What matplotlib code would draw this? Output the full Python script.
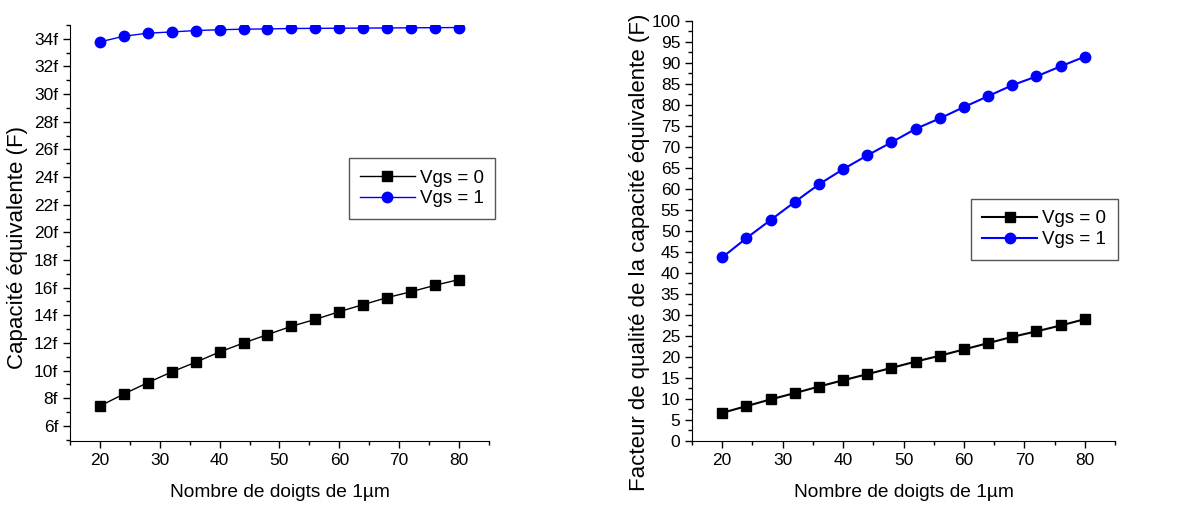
import matplotlib.pyplot as plt
from matplotlib.ticker import MultipleLocator, FuncFormatter

plt.rcParams['font.family'] = ['Liberation Sans', 'DejaVu Sans']

doigts = [20, 24, 28, 32, 36, 40, 44, 48, 52, 56, 60, 64, 68, 72, 76, 80]

# capacite equivalente, en fF
cap_vgs0 = [7.43, 8.3, 9.12, 9.9, 10.6, 11.34, 11.99, 12.6, 13.2, 13.7,
            14.26, 14.77, 15.28, 15.7, 16.17, 16.58]
cap_vgs1 = [33.78, 34.19, 34.41, 34.5, 34.6, 34.66, 34.7, 34.72, 34.75, 34.76,
            34.77, 34.78, 34.79, 34.8, 34.81, 34.82]

# facteur de qualite
q_vgs0 = [6.7, 8.3, 9.9, 11.4, 12.96, 14.46, 15.9, 17.4, 18.9, 20.3,
          21.8, 23.3, 24.8, 26.1, 27.5, 29.0]
q_vgs1 = [43.7, 48.3, 52.6, 56.9, 61.1, 64.7, 68.0, 71.1, 74.3, 76.8,
          79.5, 82.1, 84.7, 86.8, 89.2, 91.5]

labels = ['Vgs = 0', 'Vgs = 1']

fig = plt.figure(figsize=(11.96, 5.11), dpi=100)
ax1 = fig.add_axes([0.0585, 0.137, 0.3503, 0.814])
ax2 = fig.add_axes([0.5786, 0.137, 0.3537, 0.822])


def style(ax):
    for s in ['top', 'right']:
        ax.spines[s].set_visible(False)
    ax.tick_params(which='major', direction='out', length=5, width=1, labelsize=12.5)
    ax.tick_params(which='minor', direction='out', length=3, width=1)
    ax.xaxis.set_major_locator(MultipleLocator(10))
    ax.xaxis.set_minor_locator(MultipleLocator(5))
    ax.set_xlim(15, 85)
    ax.set_xlabel('Nombre de doigts de 1µm', fontsize=13.8, labelpad=12)


def legende(ax, x, y):
    leg = ax.legend(loc='upper left', bbox_to_anchor=(x, y), borderaxespad=0,
                    fontsize=13.5, fancybox=False, edgecolor='#555555', framealpha=1,
                    handlelength=2.9, borderpad=0.6, labelspacing=0.2, handletextpad=0.3)
    leg.get_frame().set_linewidth(1)


ax1.plot(doigts, cap_vgs0, color='black', lw=1, marker='s', ms=6.5, label=labels[0])
ax1.plot(doigts, cap_vgs1, color='#0000ff', lw=1, marker='o', ms=7.5, label=labels[1])
style(ax1)
ax1.set_ylim(4.9, 35)
ax1.yaxis.set_major_locator(MultipleLocator(2))
ax1.yaxis.set_minor_locator(MultipleLocator(1))
ax1.yaxis.set_major_formatter(FuncFormatter(lambda v, p: '%df' % round(v) if v >= 5.5 else ''))
ax1.set_ylabel('Capacité équivalente (F)', fontsize=16)
ax1.yaxis.set_label_coords(-0.10, 0.466)
legende(ax1, 0.666, 0.68)

ax2.plot(doigts, q_vgs0, color='black', lw=1.5, marker='s', ms=6.5, label=labels[0])
ax2.plot(doigts, q_vgs1, color='#0000ff', lw=1.5, marker='o', ms=7.5, label=labels[1])
style(ax2)
ax2.set_ylim(0, 100)
ax2.yaxis.set_major_locator(MultipleLocator(5))
ax2.yaxis.set_minor_locator(MultipleLocator(2.5))
ax2.set_ylabel('Facteur de qualité de la capacité équivalente (F)', fontsize=16)
ax2.yaxis.set_label_coords(-0.099, 0.45)
legende(ax2, 0.66, 0.576)

fig.savefig('out.png', dpi=100)
